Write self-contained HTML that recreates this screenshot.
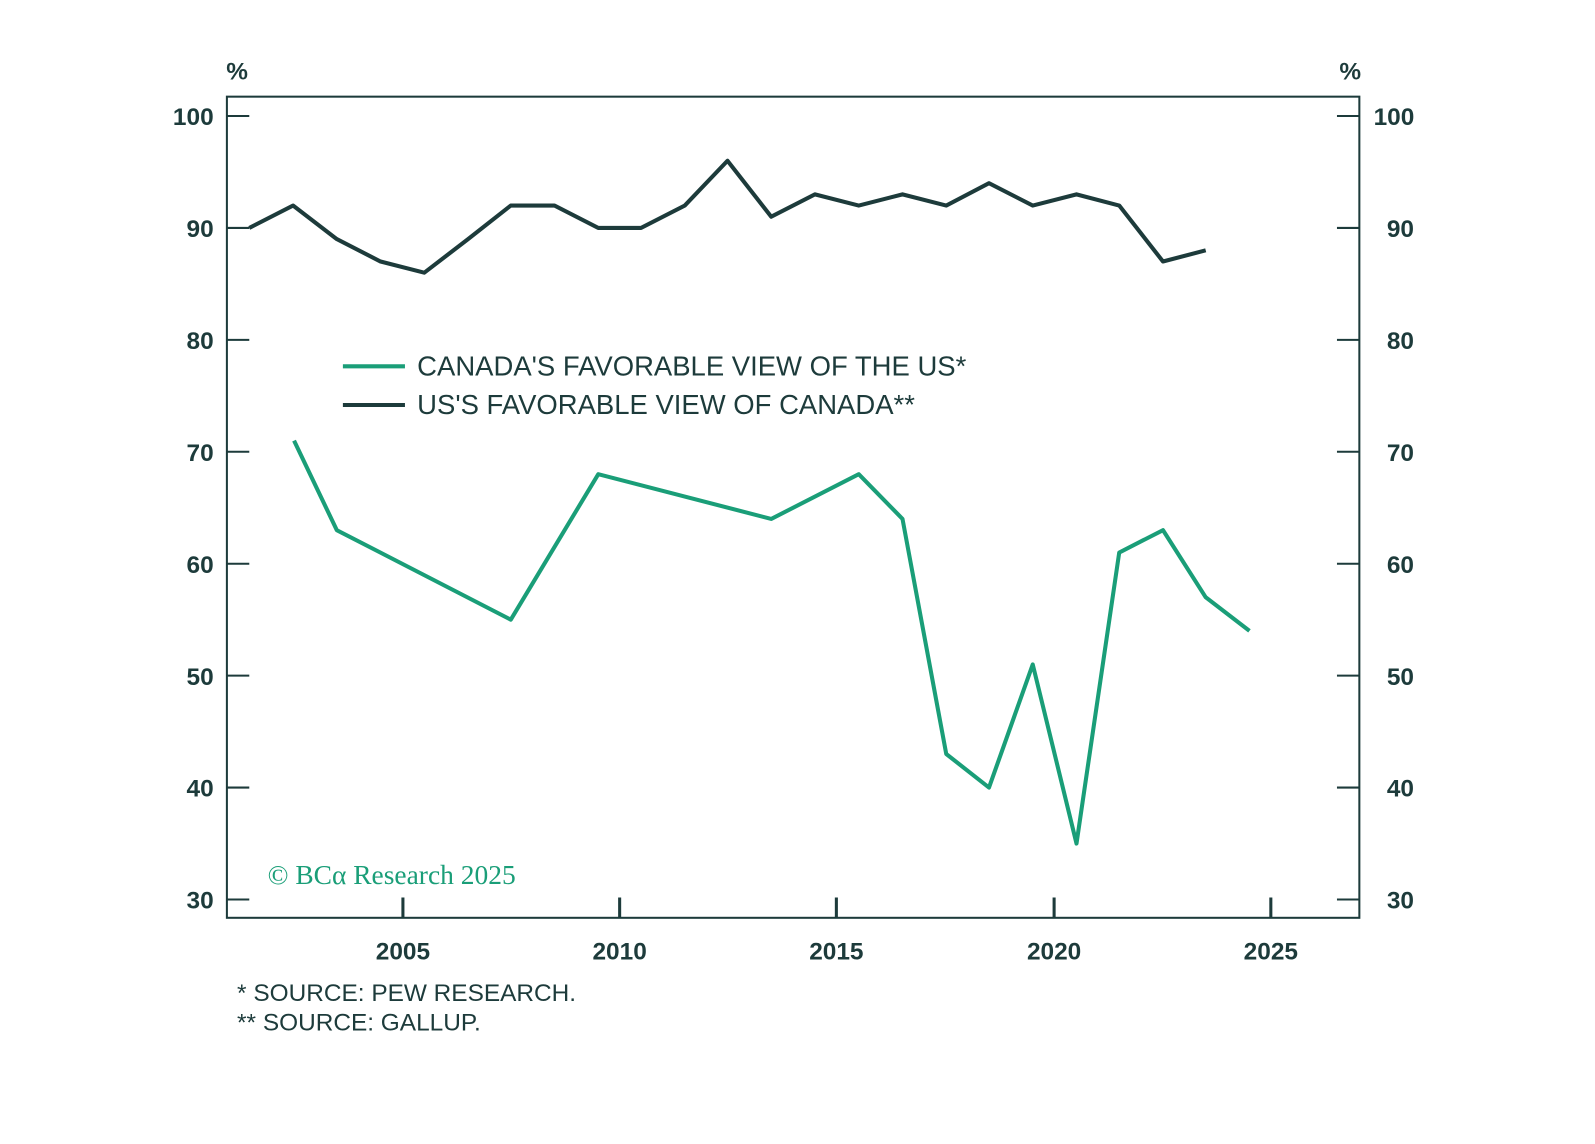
<!DOCTYPE html>
<html><head><style>body{margin:0;background:#fff}svg{display:block}</style></head><body>
<svg width="1595" height="1144" viewBox="0 0 1567.6 1124.3" preserveAspectRatio="none" xmlns="http://www.w3.org/2000/svg" font-family="Liberation Sans, sans-serif">
<rect width="1568" height="1125" fill="#fff"/>
<g stroke="#1d3b3b" stroke-width="2" fill="none">
<rect x="223" y="95" width="1113" height="807"/>
<path d="M223 114h22M223 224h22M223 334h22M223 444h22M223 554h22M223 664h22M223 774h22M223 884h22"/>
<path d="M1336 114h-22M1336 224h-22M1336 334h-22M1336 444h-22M1336 554h-22M1336 664h-22M1336 774h-22M1336 884h-22"/>
<path stroke-width="3" d="M396 902v-20M609 902v-20M822 902v-20M1036 902v-20M1249 902v-20"/>
</g>
<g fill="#1d3b3b" font-size="24" font-weight="bold">
<text x="233" y="78" text-anchor="middle">%</text>
<text x="1327" y="78" text-anchor="middle">%</text>
<g text-anchor="end">
<text x="210" y="123">100</text><text x="210" y="233">90</text><text x="210" y="343">80</text><text x="210" y="453">70</text><text x="210" y="563">60</text><text x="210" y="673">50</text><text x="210" y="783">40</text><text x="210" y="893">30</text>
</g>
<g text-anchor="start">
<text x="1350" y="123">100</text><text x="1363" y="233">90</text><text x="1363" y="343">80</text><text x="1363" y="453">70</text><text x="1363" y="563">60</text><text x="1363" y="673">50</text><text x="1363" y="783">40</text><text x="1363" y="893">30</text>
</g>
<g text-anchor="middle">
<text x="396" y="943">2005</text><text x="609" y="943">2010</text><text x="822" y="943">2015</text><text x="1036" y="943">2020</text><text x="1249" y="943">2025</text>
</g>
</g>
<g fill="#1d3b3b" font-size="24">
<text x="233" y="984">*  SOURCE: PEW RESEARCH.</text>
<text x="233" y="1013">** SOURCE: GALLUP.</text>
<text x="410" y="369" font-size="27">CANADA'S FAVORABLE VIEW OF THE US*</text>
<text x="410" y="407" font-size="27">US'S FAVORABLE VIEW OF CANADA**</text>
</g>
<line x1="337" y1="360" x2="398" y2="360" stroke="#1a9e78" stroke-width="4"/>
<line x1="337" y1="398" x2="398" y2="398" stroke="#1d3b3b" stroke-width="4"/>
<text x="263" y="869" fill="#1a9e78" font-size="27" font-family="Liberation Serif, serif">© BCα Research 2025</text>
<polyline fill="none" stroke="#1d3b3b" stroke-width="4" stroke-linejoin="round" points="245,224 288,202 331,235 374,257 417,268 460,235 502,202 545,202 588,224 630,224 673,202 715,158 758,213 801,191 844,202 887,191 930,202 972,180 1015,202 1058,191 1100,202 1143,257 1185,246"/>
<polyline fill="none" stroke="#1a9e78" stroke-width="4" stroke-linejoin="round" points="289,433 331,521 502,609 588,466 758,510 844,466 887,510 930,741 972,774 1015,653 1058,829 1100,543 1143,521 1185,587 1228,620"/>
</svg>
</body></html>
